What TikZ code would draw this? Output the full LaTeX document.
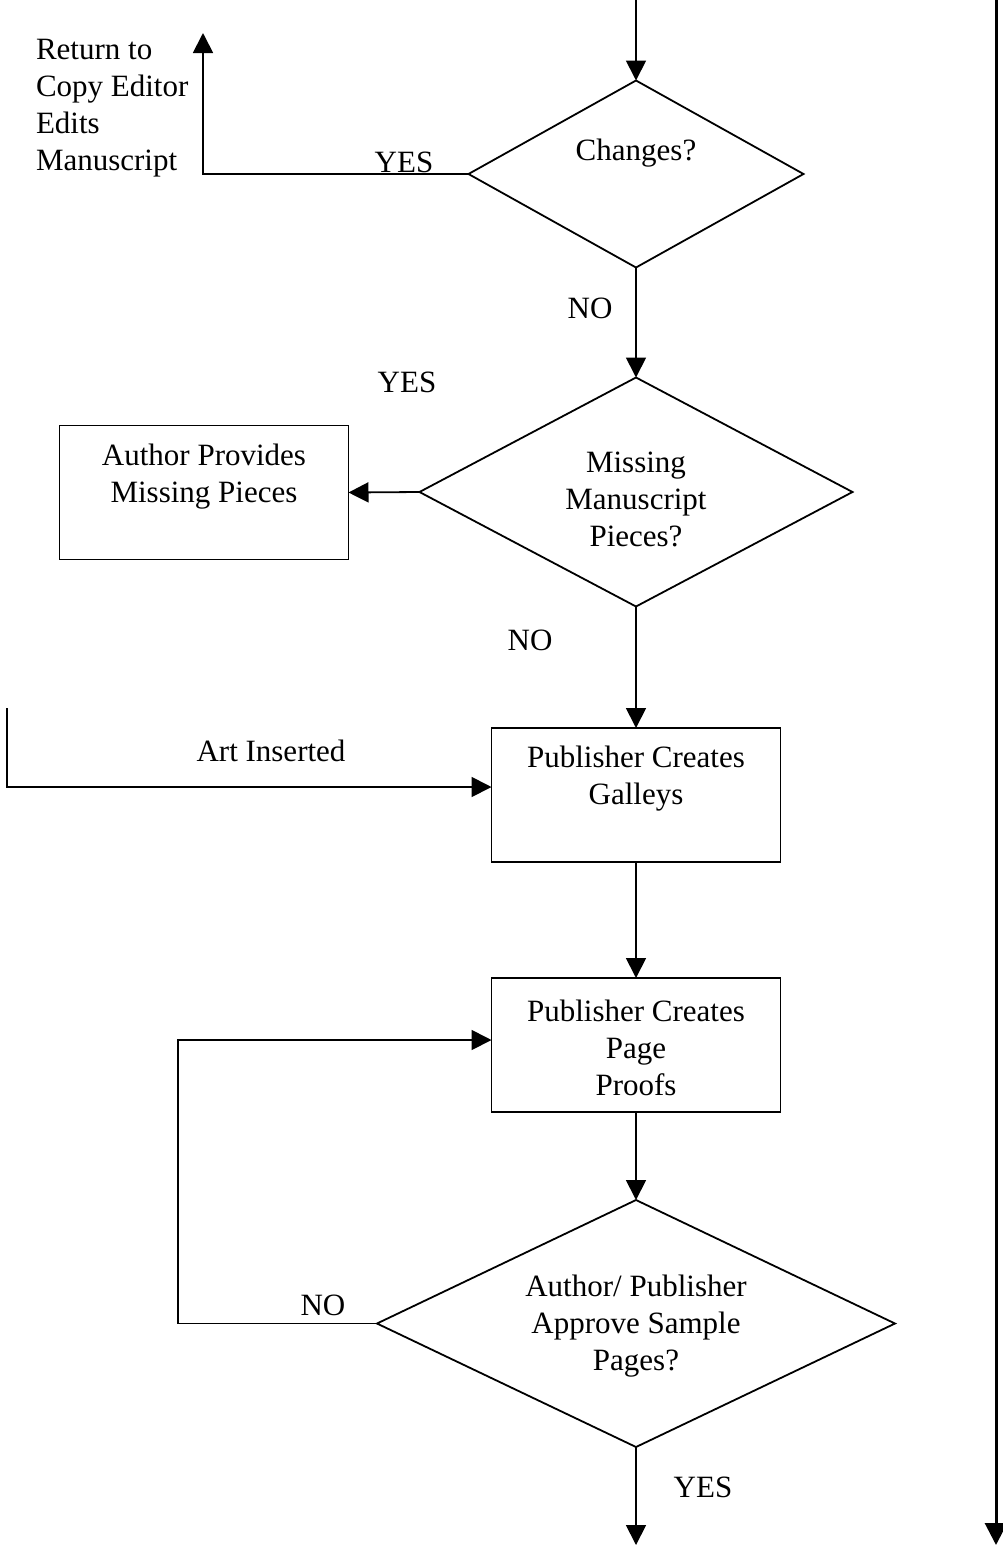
\documentclass[tikz,border=0pt]{standalone}
\usepackage{fontspec}
\setmainfont{Liberation Serif}
\usetikzlibrary{shapes.geometric,arrows.meta}
\begin{document}
\begin{tikzpicture}[x=1pt,y=-1pt,
  line width=1.8pt,
  every node/.style={inner sep=0pt, outer sep=0pt},
  txt/.style={font=\fontsize{31}{37}\selectfont, align=center},
  lefttxt/.style={font=\fontsize{31}{37}\selectfont, align=left, anchor=west},
  decision/.style={draw, diamond, line width=1.8pt},
  stepbox/.style={draw, rectangle, minimum width=289pt, minimum height=134pt},
  flow/.style={-{Triangle[length=20pt,width=20pt]}},
  rail/.style={line width=3pt, -{Triangle[length=22pt,width=22pt]}},
]
\useasboundingbox (0,0) rectangle (1003,1553);

% decisions and process boxes
\node[decision, minimum width=335pt, minimum height=187pt] (changes) at (636,174) {};
\node[txt] (changesT) at (636,153) {Changes?};

\node[decision, minimum width=433pt, minimum height=229pt] (missing) at (636,492) {};
\node[txt] (missingT) at (636,499) {Missing\\Manuscript\\Pieces?};

\node[stepbox] (author) at (204,492.5) {};
\node[txt] (authorT) at (204,477) {Author Provides\\Missing Pieces};

\node[stepbox] (galleys) at (636,795) {};
\node[txt] (galleysT) at (636,779) {Publisher Creates\\Galleys};

\node[stepbox] (proofs) at (636,1045) {};
\node[txt] (proofsT) at (636,1048) {Publisher Creates\\Page\\Proofs};

\node[decision, minimum width=518pt, minimum height=247pt] (approve) at (636,1323.5) {};
\node[txt] (approveT) at (636,1326) {Author/ Publisher\\Approve Sample\\Pages?};

% free ends of connectors
\coordinate (topin) at (636,0);
\coordinate (ret) at (203,33);
\coordinate (artstart) at (7,708);
\coordinate (loop) at (178,1040);
\coordinate (endout) at (636,1545);
\coordinate (railtop) at (996,0);
\coordinate (railend) at (996,1545);

% connectors
\draw[flow] (topin) -- (changes.north);
\draw[flow] (changes.west) -| (ret);
\draw[flow] (changes.south) -- (missing.north);
\draw[flow] (missing.west) -- (author.east);
\draw[flow] (missing.south) -- (galleys.north);
\draw[flow] (artstart) |- ([yshift=8pt]galleys.west);
\draw[flow] (galleys.south) -- (proofs.north);
\draw[flow] (proofs.south) -- (approve.north);
\draw[flow] (approve.west) -| (loop) -- ([yshift=5pt]proofs.west);
\draw[flow] (approve.south) -- (endout);
\draw[rail] (railtop) -- (railend);

% labels
\node[lefttxt] (retT) at (36,108) {Return to\\Copy Editor\\Edits\\Manuscript};
\node[txt] (yes1) at (404,162) {YES};
\node[txt] (no1) at (590,308) {NO};
\node[txt] (yes2) at (407,382) {YES};
\node[txt] (no2) at (530,640) {NO};
\node[txt] (art) at (271,751) {Art Inserted};
\node[txt] (no3) at (323,1305) {NO};
\node[txt] (yes3) at (703,1487) {YES};
\end{tikzpicture}
\end{document}
